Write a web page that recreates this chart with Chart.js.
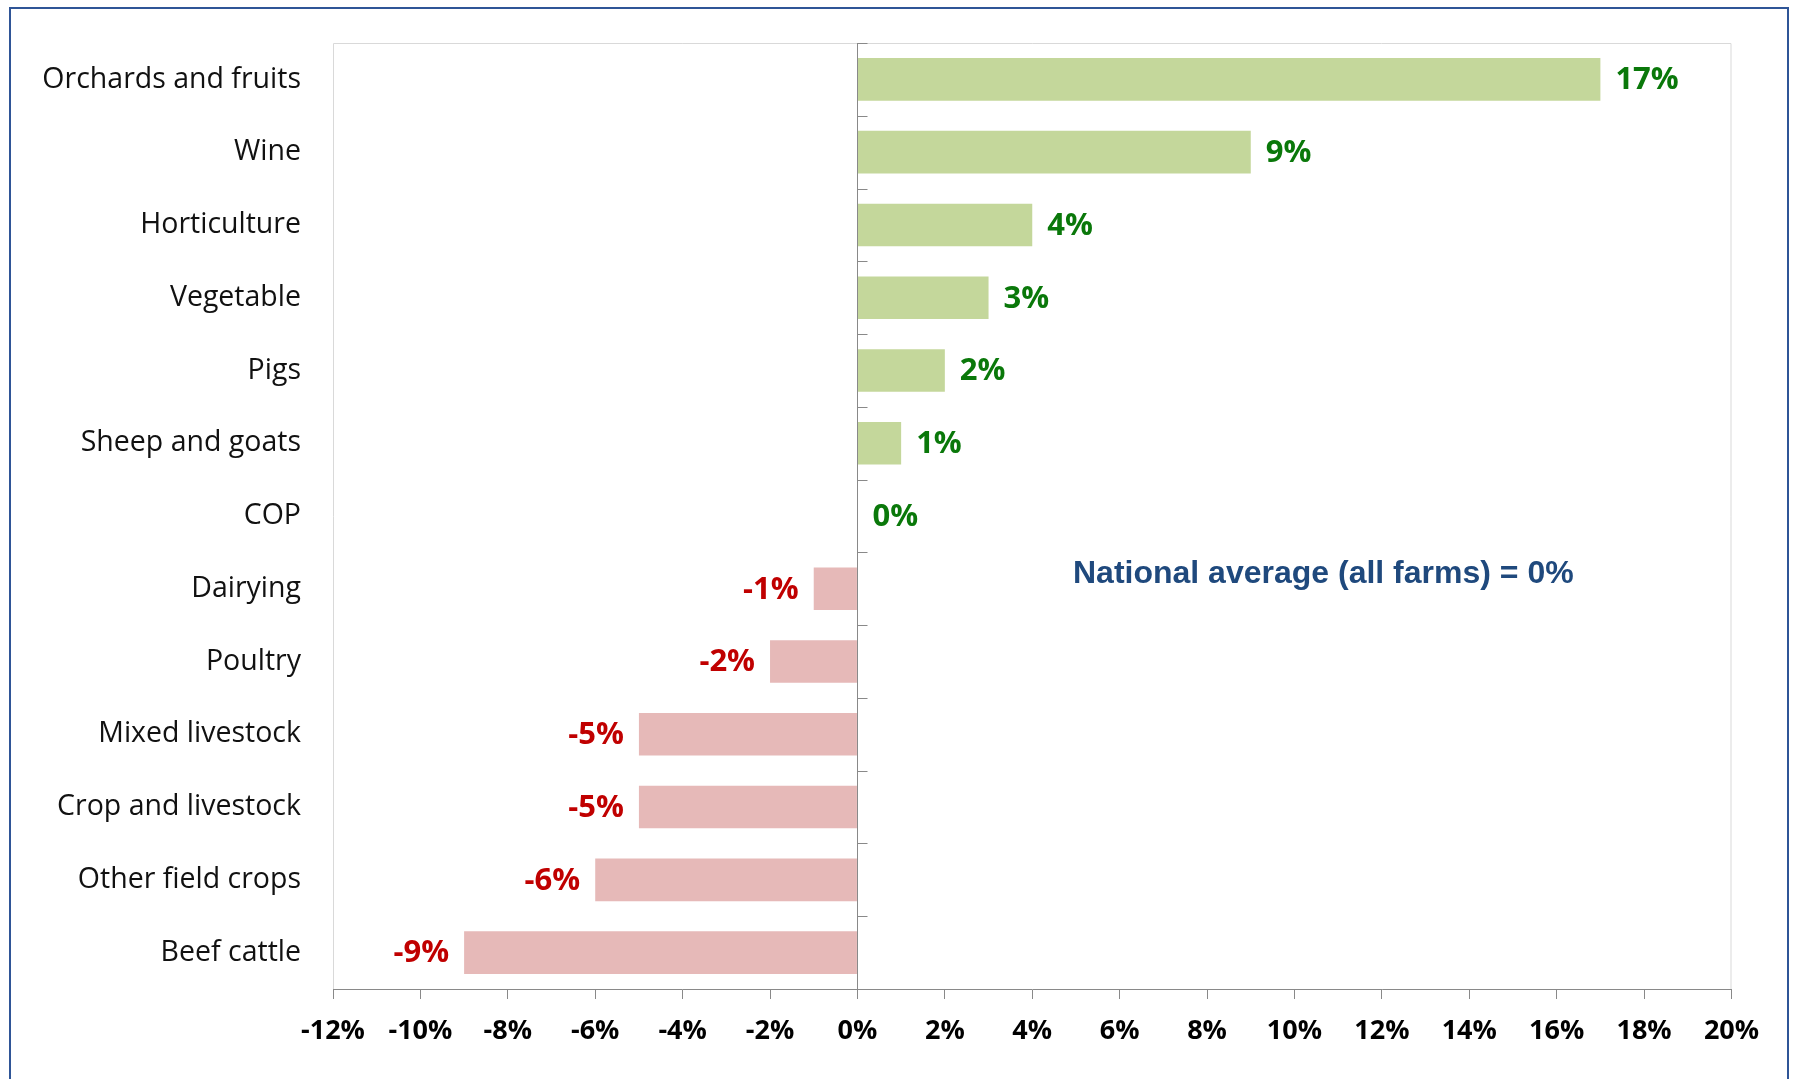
<!DOCTYPE html>
<html>
<head>
<meta charset="utf-8">
<script src="https://cdn.jsdelivr.net/npm/chart.js@4"></script>
<style>
  html, body { margin: 0; padding: 0; background: #fff; overflow: hidden; }
  #wrap { position: relative; width: 1793px; height: 1079px; }
  #frame { position: absolute; left: 9px; top: 7px; width: 1776px; height: 1200px;
           border: 2px solid #2F5597; box-sizing: content-box; pointer-events: none; }
  canvas { position: absolute; left: 0; top: 0; }
</style>
</head>
<body>
<div id="wrap">
  <canvas id="chart" width="1793" height="1079"></canvas>
  <div id="frame"></div>
</div>
<script>
// categories top to bottom
const farmTypes = ['Orchards and fruits', 'Wine', 'Horticulture', 'Vegetable', 'Pigs',
  'Sheep and goats', 'COP', 'Dairying', 'Poultry', 'Mixed livestock',
  'Crop and livestock', 'Other field crops', 'Beef cattle'];
// deviation from national average, %
const deviation = [17, 9, 4, 3, 2, 1, 0, -1, -2, -5, -5, -6, -9];
const xTicks = [-12, -10, -8, -6, -4, -2, 0, 2, 4, 6, 8, 10, 12, 14, 16, 18, 20];
const note = 'National average (all farms) = 0%';

const GREEN_BAR = '#C4D79B', RED_BAR = '#E6B9B8';
const GREEN_TXT = '#0A780A', RED_TXT = '#C00000';
const AXIS_GREY = '#898989';

// frame, zero line, value labels, note
const extras = {
  id: 'extras',
  beforeDatasetsDraw(chart) {
    const { ctx, chartArea: a } = chart;
    ctx.save();
    ctx.strokeStyle = '#D9D9D9';
    ctx.lineWidth = 1;
    ctx.beginPath();
    ctx.moveTo(a.left + 0.5, a.bottom);
    ctx.lineTo(a.left + 0.5, a.top + 0.5);
    ctx.lineTo(a.right - 0.5, a.top + 0.5);
    ctx.lineTo(a.right - 0.5, a.bottom);
    ctx.stroke();
    ctx.restore();
  },
  afterDatasetsDraw(chart) {
    const { ctx, chartArea: a, scales: { x, y } } = chart;
    const x0 = Math.round(x.getPixelForValue(0)) + 0.5;
    ctx.save();
    ctx.strokeStyle = AXIS_GREY;
    ctx.lineWidth = 1;
    ctx.beginPath();
    ctx.moveTo(x0, a.top);
    ctx.lineTo(x0, a.bottom);
    for (let i = 0; i <= farmTypes.length; i++) {
      const yy = Math.round(y.getPixelForValue(i - 0.5)) + 0.5;
      ctx.moveTo(x0, yy);
      ctx.lineTo(x0 + 10, yy);
    }
    ctx.stroke();

    // value labels
    const meta = chart.getDatasetMeta(0);
    ctx.font = 'bold 31px "Open Sans"';
    ctx.textBaseline = 'middle';
    meta.data.forEach((bar, i) => {
      const v = deviation[i];
      if (v >= 0) {
        ctx.fillStyle = GREEN_TXT;
        ctx.textAlign = 'left';
        ctx.fillText(v + '%', bar.x + 15, bar.y + 1);
      } else {
        ctx.fillStyle = RED_TXT;
        ctx.textAlign = 'right';
        ctx.fillText(v + '%', bar.x - 15, bar.y + 1);
      }
    });

    // note
    ctx.font = 'bold 32px "Liberation Sans", Arial';
    ctx.fillStyle = '#1F497D';
    ctx.textAlign = 'center';
    const ny = (y.getPixelForValue(6) + y.getPixelForValue(7)) / 2 + 22;
    ctx.fillText(note, x.getPixelForValue(10.66), ny);
    ctx.restore();
  }
};

new Chart(document.getElementById('chart'), {
  type: 'bar',
  data: {
    labels: farmTypes,
    datasets: [{
      data: deviation,
      backgroundColor: deviation.map(v => v >= 0 ? GREEN_BAR : RED_BAR),
      borderWidth: 0,
      categoryPercentage: 1,
      barPercentage: 0.585
    }]
  },
  options: {
    indexAxis: 'y',
    responsive: false,
    animation: false,
    layout: { padding: { top: 43, right: 61.5, left: 0, bottom: 0 } },
    plugins: { legend: { display: false }, tooltip: { enabled: false } },
    scales: {
      x: {
        min: -12, max: 20,
        afterBuildTicks: s => { s.ticks = xTicks.map(v => ({ value: v })); },
        afterFit: s => { s.height = 90; },
        border: { display: true, color: AXIS_GREY, width: 1 },
        grid: { display: true, drawOnChartArea: false, drawTicks: true, tickLength: 10, color: AXIS_GREY },
        ticks: {
          callback: v => v + '%',
          color: '#000',
          padding: 16,
          maxRotation: 0,
          font: { family: 'Open Sans', size: 27, weight: 'bold' }
        }
      },
      y: {
        afterFit: s => { s.width = 333; s.paddingTop = 0; s.paddingBottom = 0; },
        border: { display: false },
        grid: { display: false, drawTicks: false },
        ticks: {
          color: '#111',
          padding: 32,
          font: { family: 'Open Sans', size: 28.5 }
        }
      }
    }
  },
  plugins: [extras]
});
</script>
</body>
</html>
